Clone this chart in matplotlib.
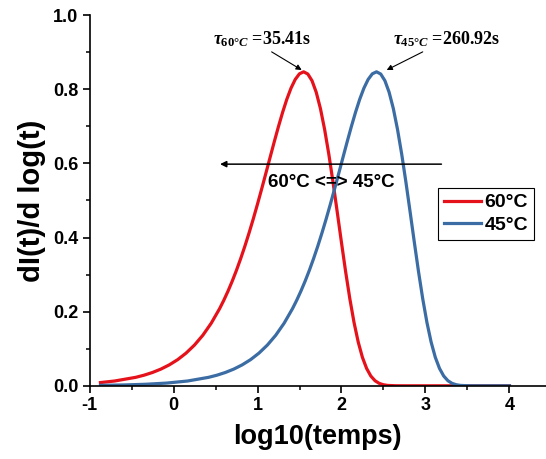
import matplotlib
matplotlib.use("Agg")
import matplotlib.pyplot as plt

plt.rcParams['font.family'] = ['Liberation Sans', 'DejaVu Sans']
plt.rcParams['mathtext.fontset'] = 'custom'
plt.rcParams['mathtext.rm'] = 'Liberation Serif:bold'
plt.rcParams['mathtext.it'] = 'Liberation Serif:italic:bold'

# values
x60 = [-0.870, -0.701, -0.451, -0.351, -0.251, -0.151, -0.051, 0.049, 0.149, 0.249,
       0.349, 0.449, 0.549, 0.599, 0.649, 0.699, 0.749, 0.799, 0.849, 0.899,
       0.949, 0.999, 1.049, 1.099, 1.149, 1.199, 1.249, 1.299, 1.349, 1.399,
       1.449, 1.499, 1.549, 1.599, 1.649, 1.699, 1.749, 1.799, 1.849, 1.899,
       1.949, 1.999, 2.049, 2.099, 2.149, 2.199, 2.249, 2.299, 2.349, 2.399,
       2.449, 2.499, 2.549, 2.649, 2.749, 4.000]
y60 = [0.0087, 0.0129, 0.0228, 0.0286, 0.0359, 0.0450, 0.0564, 0.0705, 0.0881, 0.1098,
       0.1364, 0.1689, 0.2083, 0.2309, 0.2556, 0.2824, 0.3114, 0.3428, 0.3763, 0.4121,
       0.4499, 0.4896, 0.5307, 0.5730, 0.6156, 0.6580, 0.6991, 0.7379, 0.7731, 0.8031,
       0.8265, 0.8417, 0.8471, 0.8412, 0.8231, 0.7920, 0.7481, 0.6917, 0.6248, 0.5495,
       0.4692, 0.3875, 0.3082, 0.2351, 0.1711, 0.1181, 0.0768, 0.0468, 0.0264, 0.0137,
       0.0065, 0.0028, 0.0010, 0.0001, 0.0, 0.0]

x45 = [-0.870, -0.583, -0.333, -0.083, 0.167, 0.417, 0.517, 0.617, 0.717, 0.817,
       0.917, 1.017, 1.117, 1.217, 1.317, 1.417, 1.467, 1.517, 1.567, 1.617,
       1.667, 1.717, 1.767, 1.817, 1.867, 1.917, 1.967, 2.017, 2.067, 2.117,
       2.167, 2.217, 2.267, 2.317, 2.367, 2.417, 2.467, 2.517, 2.567, 2.617,
       2.667, 2.717, 2.767, 2.817, 2.867, 2.917, 2.967, 3.017, 3.067, 3.117,
       3.167, 3.217, 3.267, 3.317, 3.367, 3.417, 3.517, 3.617, 4.000]
y45 = [0.0012, 0.0023, 0.0041, 0.0073, 0.0129, 0.0228, 0.0286, 0.0359, 0.0450, 0.0564,
       0.0705, 0.0881, 0.1098, 0.1364, 0.1689, 0.2083, 0.2309, 0.2556, 0.2824, 0.3114,
       0.3428, 0.3763, 0.4121, 0.4499, 0.4896, 0.5307, 0.5730, 0.6156, 0.6580, 0.6991,
       0.7379, 0.7731, 0.8031, 0.8265, 0.8417, 0.8471, 0.8412, 0.8231, 0.7920, 0.7481,
       0.6917, 0.6248, 0.5495, 0.4692, 0.3875, 0.3082, 0.2351, 0.1711, 0.1181, 0.0768,
       0.0468, 0.0264, 0.0137, 0.0065, 0.0028, 0.0010, 0.0001, 0.0, 0.0]

labels = ["60°C", "45°C"]
colors = ["#e5121b", "#3b6ca3"]
xticks = [-1, 0, 1, 2, 3, 4]
yticks = [0.0, 0.2, 0.4, 0.6, 0.8, 1.0]

fig = plt.figure(figsize=(5.46, 4.59), dpi=100)
ax = fig.add_axes([0.164, 0.1595, 0.836, 0.8075])

ax.plot(x60, y60, color=colors[0], lw=2.3, label=labels[0])
ax.plot(x45, y45, color=colors[1], lw=2.3, label=labels[1])

ax.set_xlim(-1, 4.435)
ax.set_ylim(0, 1.0)
ax.set_xticks(xticks)
ax.set_xticklabels([str(t) for t in xticks])
ax.set_xticks([-0.5, 0.5, 1.5, 2.5, 3.5], minor=True)
ax.set_yticks(yticks)
ax.set_yticklabels(["%.1f" % t for t in yticks])
ax.set_yticks([0.1, 0.3, 0.5, 0.7, 0.9], minor=True)

for s in ["top", "right"]:
    ax.spines[s].set_visible(False)
for s in ["left", "bottom"]:
    ax.spines[s].set_linewidth(1.2)
ax.tick_params(which='major', direction='out', length=5, width=1.2, labelsize=13, pad=3)
ax.tick_params(which='minor', direction='out', length=3, width=1.1)
for lab in ax.get_xticklabels() + ax.get_yticklabels():
    lab.set_fontweight('bold')

ax.set_xlabel("log10(temps)", fontsize=19.5, fontweight='bold', labelpad=7)
ax.set_ylabel("dI(t)/d log(t)", fontsize=21, fontweight='bold', labelpad=5)

# horizontal shift arrow
ax.annotate("", xy=(0.554, 0.598), xytext=(3.19, 0.598),
            arrowprops=dict(arrowstyle='-|>', color='black', lw=1.1,
                            mutation_scale=9, shrinkA=0, shrinkB=0))
ax.text(1.88, 0.548, "60°C <=> 45°C", fontsize=13.5, fontweight='bold',
        ha='center', va='center')

# tau annotations
ax.annotate(r"$\tau_{\mathit{60°C}}$ =35.41s", xy=(1.526, 0.852), xytext=(0.47, 0.935),
            fontsize=13, fontweight='bold', family='Liberation Serif', va='center',
            arrowprops=dict(arrowstyle='-|>', color='black', lw=0.8,
                            mutation_scale=8, shrinkA=0, shrinkB=0,
                            relpos=(0.55, 0.0)))
ax.annotate(r"$\tau_{\mathit{45°C}}$ =260.92s", xy=(2.538, 0.852), xytext=(2.613, 0.935),
            fontsize=13, fontweight='bold', family='Liberation Serif', va='center',
            arrowprops=dict(arrowstyle='-|>', color='black', lw=0.8,
                            mutation_scale=8, shrinkA=0, shrinkB=0,
                            relpos=(0.33, 0.0)))

leg = ax.legend(loc='upper left', bbox_to_anchor=(0.763, 0.534), borderaxespad=0,
                fancybox=False, edgecolor='black', framealpha=1,
                prop={'weight': 'bold', 'size': 14}, handlelength=1.9,
                handletextpad=0.2, borderpad=0.3, labelspacing=0.25)
leg.get_frame().set_linewidth(0.8)

fig.savefig("out.png", dpi=100)
